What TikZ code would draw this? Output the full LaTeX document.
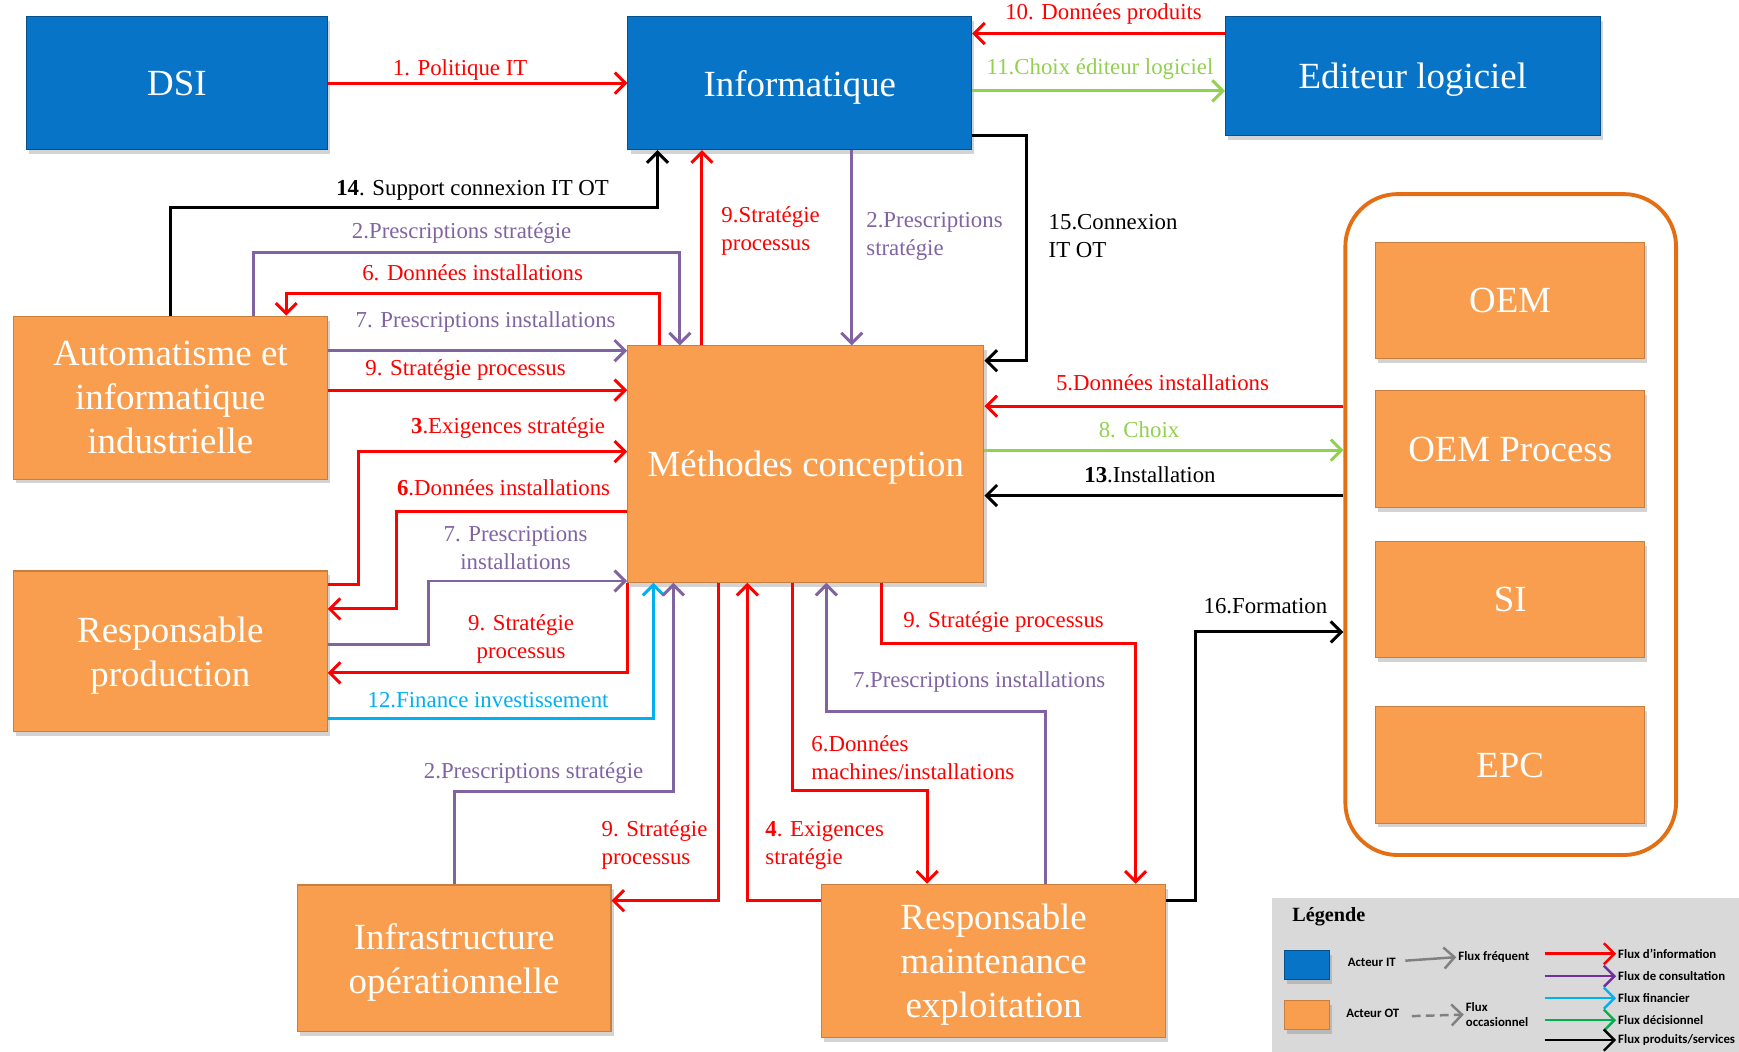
\documentclass[tikz,border=0pt]{standalone}
\usepackage{fontspec}
\setmainfont{Liberation Serif}
\newfontfamily\legendfont{Carlito}
\usepackage{xcolor}
\usepackage{tikz}
\usetikzlibrary{arrows.meta, positioning, calc, shadows}
\definecolor{itblue}{RGB}{8, 116, 200}
\definecolor{otorange}{RGB}{249, 158, 78}
\definecolor{frameorange}{RGB}{228, 110, 20}
\definecolor{infored}{RGB}{255, 0, 0}
\definecolor{consult}{RGB}{128, 100, 162}
\definecolor{consultleg}{RGB}{112, 48, 160}
\definecolor{finance}{RGB}{0, 176, 240}
\definecolor{choice}{RGB}{146, 208, 80}
\definecolor{decision}{RGB}{0, 176, 80}
\definecolor{legbg}{RGB}{217, 217, 217}

\begin{document}
\begin{tikzpicture}[x=1cm, y=1cm,
  bx/.style={rectangle, font=\fontsize{21pt}{25pt}\selectfont,
    text=white, align=center, inner sep=2pt, line width=0.6pt, text depth=0pt,
    drop shadow={shadow xshift=1.5pt, shadow yshift=-2.5pt, opacity=0.35}},
  itbx/.style={bx, fill=itblue, draw=itblue!70!black},
  otbx/.style={bx, fill=otorange, draw=otorange!80!black},
  arr/.style={-{Straight Barb[length=6pt, width=12pt]}, line width=1.7pt},
  lbl/.style={font=\fontsize{13pt}{16pt}\selectfont, align=center, inner sep=1pt},
  leg/.style={font=\legendfont\bfseries\fontsize{7.3pt}{8.5pt}\selectfont,
    inner sep=1pt, align=left}
]
\useasboundingbox (0,0) rectangle (34.81,-21.05);

% acteurs IT
\node[itbx, minimum width=6.02cm, minimum height=2.66cm]
  at (3.54, -1.665) (dsi)  {DSI};
\node[itbx, minimum width=6.88cm, minimum height=2.66cm]
  at (16.01, -1.665) (info) {Informatique};
\node[itbx, minimum width=7.50cm, minimum height=2.38cm]
  at (28.28, -1.52) (edit) {Editeur logiciel};

% acteurs OT
\node[otbx, minimum width=6.28cm, minimum height=3.26cm]
  at (3.41, -7.96) (auto) {Automatisme et\\informatique\\industrielle};
\node[otbx, minimum width=7.13cm, minimum height=4.73cm]
  at (16.13, -9.29) (meth) {Méthodes conception};
\node[otbx, minimum width=6.28cm, minimum height=3.22cm]
  at (3.41, -13.04) (rp) {Responsable\\production};
\node[otbx, minimum width=6.28cm, minimum height=2.93cm]
  at (9.09, -19.18) (infra) {Infrastructure\\opérationnelle};
\node[otbx, minimum width=6.88cm, minimum height=3.06cm]
  at (19.89, -19.23) (rme) {Responsable\\maintenance\\exploitation};

% fournisseurs
\node[draw=frameorange, line width=2.2pt, rounded corners=1.05cm,
      minimum width=6.62cm, minimum height=13.23cm] at (30.24, -10.50) (ext) {};
\node[otbx, minimum width=5.39cm, minimum height=2.33cm] at (30.23, -6.01)  (oem)  {OEM};
\node[otbx, minimum width=5.39cm, minimum height=2.33cm] at (30.23, -8.99)  (oemp) {OEM Process};
\node[otbx, minimum width=5.39cm, minimum height=2.33cm] at (30.23, -12.00) (si)   {SI};
\node[otbx, minimum width=5.39cm, minimum height=2.33cm] at (30.23, -15.31) (epc)  {EPC};

% flux autour de Informatique
\draw[arr, infored] (dsi.east) -- (info.west);
\node[lbl, text=infored] at (9.21, -1.40) (l1) {1. Politique IT};
\draw[arr, infored] (edit.west |- 0,-0.67) -- (info.east |- 0,-0.67);
\node[lbl, text=infored] at (22.09, -0.29) (l10) {10. Données produits};
\draw[arr, choice] (info.east |- 0,-1.82) -- (edit.west |- 0,-1.82);
\node[lbl, text=choice] at (22.02, -1.38) (l11) {11.Choix éditeur logiciel};
\draw[arr] (auto.north) |- (13.16,-4.15) -- (info.south -| 13.16,0);
\node[lbl] at (9.46, -3.82) (l14) {\textbf{14}. Support connexion IT OT};
\draw[arr, consult] (info.south -| 17.05,0) -- (meth.north -| 17.05,0);
\node[lbl, text=consult, anchor=west, align=left] at (17.30, -4.73) (l2a)
  {2.Prescriptions\\stratégie};
\draw[arr, infored] (meth.north -| 14.05,0) -- (info.south -| 14.05,0);
\node[lbl, text=infored, anchor=west, align=left] at (14.40, -4.62) (l9a)
  {9.Stratégie\\processus};
\draw[arr] (info.east |- 0,-2.71) -| (20.54,-7.22) -- (meth.east |- 0,-7.22);
\node[lbl, anchor=west, align=left] at (20.95, -4.72) (l15) {15.Connexion\\IT OT};

% Automatisme
\draw[arr, consult] (auto.north -| 5.08,0) |- (13.61,-5.06) -- (meth.north -| 13.61,0);
\node[lbl, text=consult] at (9.24, -4.66) (l2b) {2.Prescriptions stratégie};
\draw[arr, infored] (meth.north -| 13.21,0) |- (5.73,-5.88) -- (auto.north -| 5.73,0);
\node[lbl, text=infored] at (9.46, -5.46) (l6a) {6. Données installations};
\draw[arr, consult] (auto.east |- 0,-7.02) -- (meth.west |- 0,-7.02);
\node[lbl, text=consult] at (9.72, -6.44) (l7a) {7. Prescriptions installations};
\draw[arr, infored] (auto.east |- 0,-7.81) -- (meth.west |- 0,-7.81);
\node[lbl, text=infored] at (9.32, -7.41) (l9b) {9. Stratégie processus};

% Responsable production
\draw[arr, infored] (rp.east |- 0,-11.70) -| (7.17,-9.04) -- (meth.west |- 0,-9.04);
\node[lbl, text=infored] at (10.17, -8.57) (l3) {\textbf{3}.Exigences stratégie};
\draw[arr, infored] (meth.west |- 0,-10.23) -| (7.93,-12.19) -- (rp.east |- 0,-12.19);
\node[lbl, text=infored] at (10.08, -9.77) (l6b) {\textbf{6}.Données installations};
\draw[arr, consult] (rp.east |- 0,-12.90) -| (8.57,-11.63) -- (meth.west |- 0,-11.63);
\node[lbl, text=consult] at (10.32, -10.97) (l7b) {7. Prescriptions\\installations};
\draw[arr, infored] (meth.south west) |- (rp.east |- 0,-13.47);
\node[lbl, text=infored] at (10.43, -12.79) (l9c) {9. Stratégie\\processus};
\draw[arr, finance] (rp.east |- 0,-14.39) -| (meth.south -| 13.08,0);
\node[lbl, text=finance] at (9.77, -14.01) (l12) {12.Finance investissement};

% Infrastructure et maintenance
\draw[arr, consult] (infra.north) |- (13.48,-15.85) -- (meth.south -| 13.48,0);
\node[lbl, text=consult] at (10.68, -15.47) (l2c) {2.Prescriptions stratégie};
\draw[arr, infored] (meth.south -| 14.39,0) |- (infra.east |- 0,-18.03);
\node[lbl, text=infored, anchor=west, align=left] at (12.00, -16.92) (l9d)
  {9. Stratégie\\processus};
\draw[arr, infored] (rme.west |- 0,-18.03) -| (meth.south -| 14.96,0);
\node[lbl, text=infored, anchor=west, align=left] at (15.28, -16.92) (l4)
  {\textbf{4}. Exigences\\stratégie};
\draw[arr, infored] (meth.south -| 15.87,0) |- (18.56,-15.83) -- (rme.north -| 18.56,0);
\node[lbl, text=infored, anchor=west, align=left] at (16.20, -15.16) (l6c)
  {6.Données\\machines/installations};
\draw[arr, consult] (rme.north -| 20.93,0) |- (16.54,-14.25) -- (meth.south -| 16.54,0);
\node[lbl, text=consult] at (19.60, -13.65) (l7c) {7.Prescriptions installations};
\draw[arr, infored] (meth.south -| 17.65,0) |- (22.73,-12.88) -- (rme.north -| 22.73,0);
\node[lbl, text=infored] at (20.09, -12.45) (l9e) {9. Stratégie processus};

% fournisseurs
\draw[arr, infored] (ext.west |- 0,-8.13) -- (meth.east |- 0,-8.13);
\node[lbl, text=infored] at (23.27, -7.66) (l5) {5.Données installations};
\draw[arr, choice] (meth.east |- 0,-9.01) -- (ext.west |- 0,-9.01);
\node[lbl, text=choice] at (22.80, -8.61) (l8) {8. Choix};
\draw[arr] (ext.west |- 0,-9.92) -- (meth.east |- 0,-9.92);
\node[lbl] at (23.02, -9.50) (l13) {\textbf{13}.Installation};
\draw[arr] (rme.east |- 0,-18.03) -| (23.93,-12.65) -- (ext.west |- 0,-12.65);
\node[lbl] at (25.33, -12.14) (l16) {16.Formation};

% legende
\node[fill=legbg, inner sep=0, minimum width=9.35cm, minimum height=3.07cm]
  at (30.135, -19.515) (legbox) {};
\node[font=\bfseries\fontsize{11.5pt}{13pt}\selectfont] at (26.60, -18.34) (legtitle) {Légende};
\node[itbx, minimum width=0.91cm, minimum height=0.58cm] at (26.16, -19.31) (legit) {};
\node[otbx, minimum width=0.91cm, minimum height=0.58cm] at (26.16, -20.32) (legot) {};
\node[leg] at (27.46, -19.27) (legitt) {Acteur IT};
\node[leg] at (27.48, -20.29) (legott) {Acteur OT};
\coordinate (fq) at (28.13, -19.23);
\coordinate (oc) at (28.26, -20.34);
\node[leg, anchor=west] at (29.15, -19.16) (legfq) {Flux fréquent};
\node[leg, anchor=west] at (29.30, -20.31) (legoc) {Flux\\occasionnel};
\draw[arr, gray, line width=1.4pt] (fq) -- (legfq.west);
\draw[arr, gray, line width=1.4pt, dash pattern=on 5pt off 3pt] (oc) -- (legoc.west);
\foreach \y/\c/\t [count=\i] in {-19.09/infored/{Flux d’information},
    -19.54/consultleg/{Flux de consultation}, -19.98/finance/{Flux financier},
    -20.42/decision/{Flux décisionnel}, -20.82/black/{Flux produits/services}} {
  \node[leg, anchor=west] at (32.35, \y) (legf\i) {\t};
  \coordinate (legs\i) at (30.92, \y);
  \draw[arr, \c, line width=1.4pt] (legs\i) -- (legf\i.west);
}
\end{tikzpicture}
\end{document}
